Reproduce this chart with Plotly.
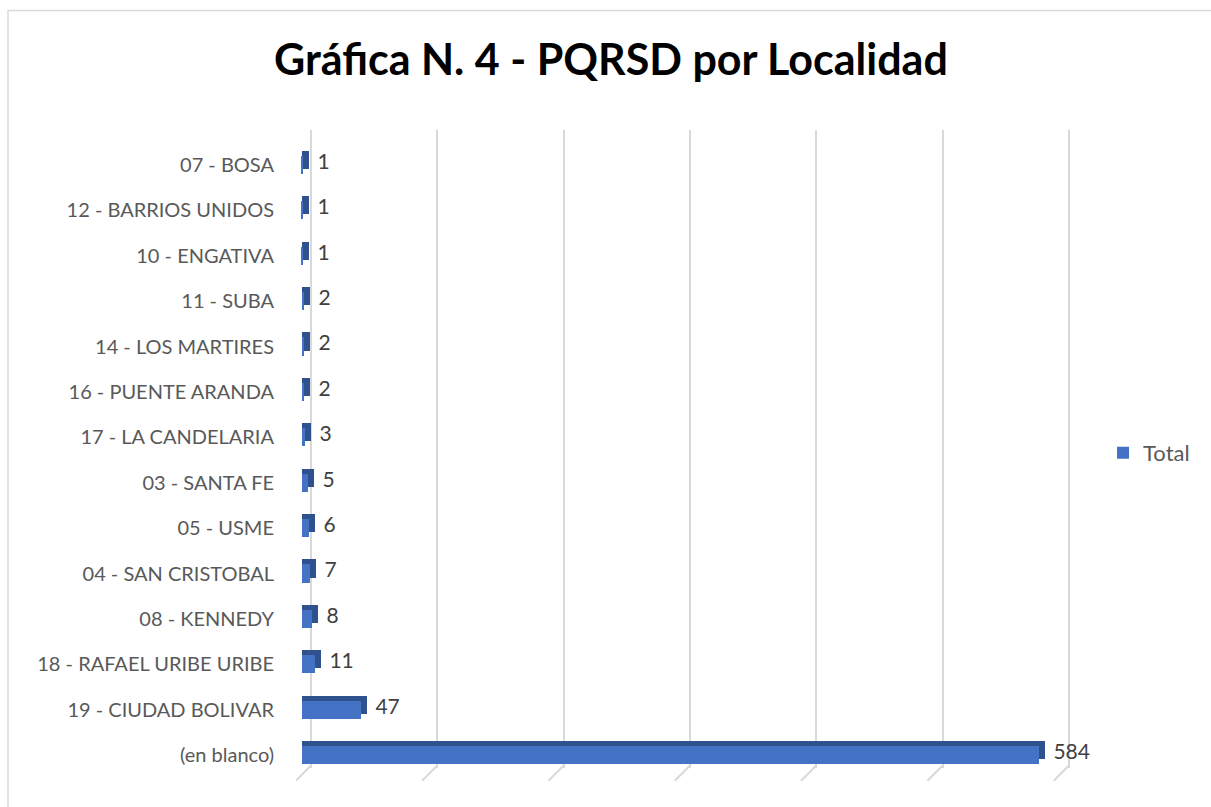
import plotly.graph_objects as go

# Datos (de arriba hacia abajo como aparecen en la gráfica)
localidades = [
    "07 - BOSA", "12 - BARRIOS UNIDOS", "10 - ENGATIVA", "11 - SUBA",
    "14 - LOS MARTIRES", "16 - PUENTE ARANDA", "17 - LA CANDELARIA",
    "03 - SANTA FE", "05 - USME", "04 - SAN CRISTOBAL", "08 - KENNEDY",
    "18 - RAFAEL URIBE URIBE", "19 - CIUDAD BOLIVAR", "(en blanco)",
]
totales = [1, 1, 1, 2, 2, 2, 3, 5, 6, 7, 8, 11, 47, 584]
grid_vals = [0, 100, 200, 300, 400, 500, 600]

FRONT = "#4472C4"
DARK = "#2F528F"
GRID = "#D9D9D9"
TXT = "#595959"
FONT = "Lato"

# efecto 3D: profundidad en unidades de datos / categoría
DEPTH_X = 4.75
DEPTH_Y = 0.11
BAR_W = 0.4

fig = go.Figure()

# cara superior / lateral (más oscura), desplazada arriba-derecha
fig.add_trace(go.Bar(
    y=localidades, x=[v + DEPTH_X for v in totales], orientation="h",
    width=BAR_W, offset=-BAR_W / 2 - DEPTH_Y,
    marker=dict(color=DARK, line=dict(width=0)),
    text=[str(v) for v in totales], texttemplate=" %{text}",
    textposition="outside", cliponaxis=False, constraintext="none",
    textfont=dict(family=FONT, size=21, color="#404040"),
    showlegend=False, hoverinfo="skip",
))

# cara frontal
fig.add_trace(go.Bar(
    y=localidades, x=totales, orientation="h", name="Total",
    width=BAR_W, offset=-BAR_W / 2,
    marker=dict(color=FRONT, line=dict(width=0)),
))

# eje trasero solo para la cuadrícula (pared del fondo)
fig.add_trace(go.Scatter(
    x=[None], y=[None], xaxis="x2", showlegend=False, hoverinfo="skip",
))

# pequeñas líneas diagonales del "piso" bajo cada línea de cuadrícula
for v in grid_vals:
    fig.add_shape(type="line", xref="x2", yref="paper",
                  x0=v, y0=0.004, x1=v - 12, y1=-0.02,
                  line=dict(color=GRID, width=2))

# marco del gráfico
fig.add_shape(type="rect", xref="paper", yref="paper",
              x0=-0.3697, y0=1.1873, x1=1.3, y1=-0.2,
              line=dict(color=GRID, width=1.5), layer="below")

fig.update_layout(
    width=1211, height=807,
    paper_bgcolor="white", plot_bgcolor="white",
    margin=dict(l=296, r=136, t=130, b=39),
    barmode="overlay",
    title=dict(text="<b>Gráfica N. 4 - PQRSD por Localidad</b>",
               x=0.5045, xanchor="center", y=0.926, yanchor="middle",
               font=dict(family=FONT, size=43, color="black")),
    xaxis=dict(range=[-4.35, 612.3], showgrid=False, zeroline=False,
               showticklabels=False, showline=False),
    xaxis2=dict(range=[-11.87, 604.8], overlaying="x", side="bottom",
                tickvals=grid_vals, showgrid=True, gridcolor=GRID,
                gridwidth=2, zeroline=False, showticklabels=False,
                showline=False, layer="below traces"),
    yaxis=dict(type="category", categoryorder="array",
               categoryarray=localidades, range=[13.284, -0.77],
               showgrid=False, zeroline=False, showline=False,
               ticks="outside", ticklen=17, tickcolor="rgba(0,0,0,0)",
               tickfont=dict(family=FONT, size=20, color=TXT)),
    legend=dict(x=1.036, y=0.494, xanchor="left", yanchor="middle",
                font=dict(family=FONT, size=22, color=TXT),
                bgcolor="rgba(0,0,0,0)"),
    bargap=0,
)

fig.write_html("out.html", config={"displayModeBar": False},
               post_script="document.body.style.margin='0';")
